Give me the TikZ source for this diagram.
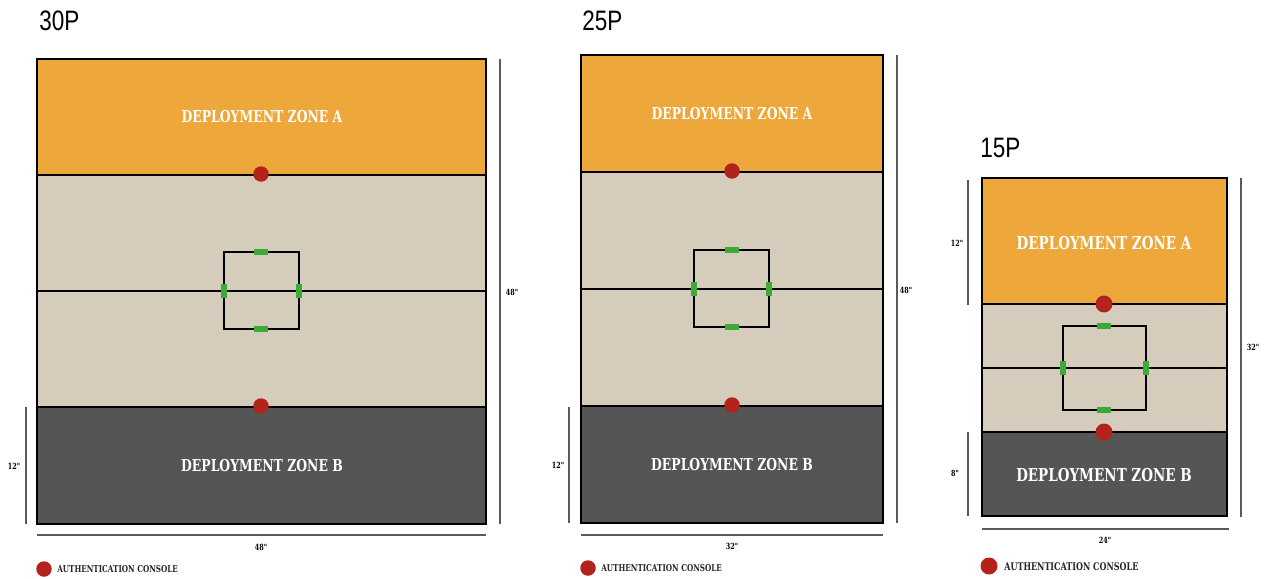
\documentclass[tikz,border=0pt]{standalone}
\usepackage{fontspec}
\newfontfamily\titlefont[FakeStretch=0.8]{Liberation Sans}
\newfontfamily\slabfont[FakeStretch=0.76]{DejaVu Serif Bold}
\definecolor{zoneorange}{HTML}{EDA73A}
\definecolor{fieldbeige}{HTML}{D5CCBC}
\definecolor{zonegray}{HTML}{555555}
\definecolor{consolered}{HTML}{B3231B}
\definecolor{markgreen}{HTML}{3DAA38}
\definecolor{dimgray}{HTML}{5A5A5A}
\tikzset{
  title/.style={anchor=base west,inner sep=0pt,font=\titlefont\fontsize{16}{18}\selectfont},
  zonelabel/.style={text=white,font=\slabfont\fontsize{9.3}{11}\selectfont},
  bigzonelabel/.style={text=white,font=\slabfont\fontsize{10.1}{12}\selectfont},
  dimlabel/.style={inner sep=0pt,font=\slabfont\fontsize{4.8}{5}\selectfont},
  legendlabel/.style={anchor=west,inner sep=0pt,text=black!85,font=\slabfont\fontsize{5.4}{6}\selectfont},
  biglegendlabel/.style={legendlabel,font=\slabfont\fontsize{6}{7}\selectfont},
  console/.style={circle,fill=consolered,inner sep=0pt,minimum size=0.31cm},
  bigconsole/.style={console,minimum size=0.34cm},
  hmark/.style={fill=markgreen,inner sep=0pt,minimum width=0.28cm,minimum height=0.11cm},
  vmark/.style={fill=markgreen,inner sep=0pt,minimum width=0.11cm,minimum height=0.28cm},
  dimline/.style={draw=dimgray,line width=1.2pt},
  edge/.style={line width=1.3pt},
  frame/.style={line width=0.8pt},
  square/.style={line width=0.9pt},
}
\begin{document}
\begin{tikzpicture}[x=0.02cm,y=-0.02cm]
\useasboundingbox (0,0) rectangle (1266,578);
\fill[white] (0,0) rectangle (1266,578);

\node[title] (t30) at (39,31) {30P};
\fill[zoneorange] (37,59) rectangle (486,175);
\fill[fieldbeige] (37,175) rectangle (486,407);
\fill[zonegray] (37,407) rectangle (486,524);
\draw[frame] (37,59) rectangle (486,524);
\draw[edge] (37,175) -- (486,175) (37,407) -- (486,407);
\draw[frame] (37,291) -- (486,291);
\draw[square] (224,252) rectangle (299,329);
\node[hmark] (g30t) at (261,252) {};
\node[hmark] (g30b) at (261,329) {};
\node[vmark] (g30l) at (224,291) {};
\node[vmark] (g30r) at (299,291) {};
\node[console] (c30a) at (261,174) {};
\node[console] (c30b) at (261,406) {};
\node[zonelabel] (za30) at (262,117) {DEPLOYMENT ZONE A};
\node[zonelabel] (zb30) at (262,466) {DEPLOYMENT ZONE B};
\draw[dimline] (500,59) -- (500,524);
\node[dimlabel] (h30) at (512,292) {48"};
\draw[dimline] (26,407) -- (26,524);
\node[dimlabel] (d30) at (14,466) {12"};
\draw[dimline] (37,535) -- (486,535);
\node[dimlabel] (w30) at (261,547) {48"};
\node[console] (l30) at (44,569) {};
\node[legendlabel] (lt30) at (57,569) {AUTHENTICATION CONSOLE};

\node[title] (t25) at (582,31) {25P};
\fill[zoneorange] (581,55) rectangle (883,172);
\fill[fieldbeige] (581,172) rectangle (883,406);
\fill[zonegray] (581,406) rectangle (883,523);
\draw[frame] (581,55) rectangle (883,523);
\draw[edge] (581,172) -- (883,172) (581,406) -- (883,406);
\draw[frame] (581,289) -- (883,289);
\draw[square] (694,250) rectangle (769,327);
\node[hmark] (g25t) at (732,250) {};
\node[hmark] (g25b) at (732,327) {};
\node[vmark] (g25l) at (694,289) {};
\node[vmark] (g25r) at (769,289) {};
\node[console] (c25a) at (732,171) {};
\node[console] (c25b) at (732,405) {};
\node[zonelabel] (za25) at (732,114) {DEPLOYMENT ZONE A};
\node[zonelabel] (zb25) at (732,465) {DEPLOYMENT ZONE B};
\draw[dimline] (897,55) -- (897,523);
\node[dimlabel] (h25) at (906,290) {48"};
\draw[dimline] (569,407) -- (569,523);
\node[dimlabel] (d25) at (558,465) {12"};
\draw[dimline] (581,535) -- (883,535);
\node[dimlabel] (w25) at (732,546) {32"};
\node[console] (l25) at (588,568) {};
\node[legendlabel] (lt25) at (601,568) {AUTHENTICATION CONSOLE};

\node[title] (t15) at (980,157) {15P};
\fill[zoneorange] (982,178) rectangle (1227,304);
\fill[fieldbeige] (982,304) rectangle (1227,432);
\fill[zonegray] (982,432) rectangle (1227,516);
\draw[frame] (982,178) rectangle (1227,516);
\draw[edge] (982,304) -- (1227,304) (982,432) -- (1227,432);
\draw[frame] (982,368) -- (1227,368);
\draw[square] (1063,326) rectangle (1146,410);
\node[hmark] (g15t) at (1104,326) {};
\node[hmark] (g15b) at (1104,410) {};
\node[vmark] (g15l) at (1063,368) {};
\node[vmark] (g15r) at (1146,368) {};
\node[bigconsole] (c15a) at (1104,304) {};
\node[bigconsole] (c15b) at (1104,432) {};
\node[bigzonelabel] (za15) at (1104,243) {DEPLOYMENT ZONE A};
\node[bigzonelabel] (zb15) at (1104,475) {DEPLOYMENT ZONE B};
\draw[dimline] (1241,178) -- (1241,517);
\node[dimlabel] (h15) at (1253,347) {32"};
\draw[dimline] (968,180) -- (968,305);
\node[dimlabel] (a15) at (957,243) {12"};
\draw[dimline] (968,432) -- (968,516);
\node[dimlabel] (d15) at (955,473) {8"};
\draw[dimline] (982,529) -- (1229,529);
\node[dimlabel] (w15) at (1105,540) {24"};
\node[bigconsole] (l15) at (989,566) {};
\node[biglegendlabel] (lt15) at (1004,567) {AUTHENTICATION CONSOLE};
\end{tikzpicture}
\end{document}
